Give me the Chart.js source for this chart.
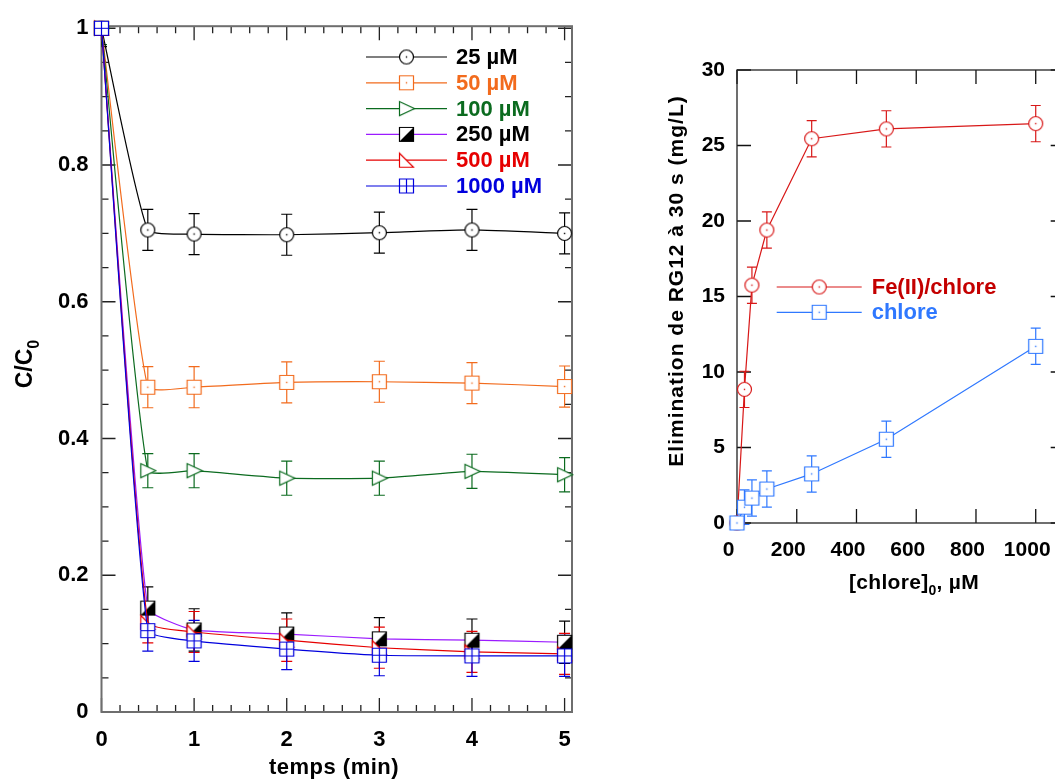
<!DOCTYPE html>
<html>
<head>
<meta charset="utf-8">
<script src="https://cdn.jsdelivr.net/npm/chart.js@4.4.1/dist/chart.umd.min.js"></script>
<style>
  html, body { margin: 0; padding: 0; background: #fff; }
  #wrap { position: relative; width: 1055px; height: 780px; overflow: hidden; }
  .box { position: absolute; top: 0; }
</style>
</head>
<body>
<div id="wrap">
  <div class="box" style="left:0;width:600px;height:780px"><canvas id="left" width="600" height="780"></canvas></div>
  <div class="box" style="left:640px;width:440px;height:780px"><canvas id="right" width="440" height="780"></canvas></div>
</div>
<script>
// ---- left panel: C/C0 vs temps ----
const times = [0, 0.5, 1, 2, 3, 4, 5];
const doseLabels = ['25 µM', '50 µM', '100 µM', '250 µM', '500 µM', '1000 µM'];
const c25   = [1, 0.705, 0.699, 0.698, 0.701, 0.705, 0.700];
const c50   = [1, 0.475, 0.475, 0.482, 0.483, 0.481, 0.476];
const c100  = [1, 0.353, 0.353, 0.342, 0.342, 0.352, 0.347];
const c250  = [1, 0.152, 0.120, 0.114, 0.107, 0.105, 0.102];
const c500  = [1, 0.131, 0.117, 0.105, 0.094, 0.088, 0.085];
const c1000 = [1, 0.119, 0.104, 0.092, 0.083, 0.082, 0.082];
const e25   = [0, 0.030, 0.030, 0.030, 0.030, 0.030, 0.030];
const e50   = [0, 0.030, 0.030, 0.030, 0.030, 0.030, 0.030];
const e100  = [0.024, 0.025, 0.025, 0.025, 0.025, 0.025, 0.025];
const e250  = [0.027, 0.031, 0.031, 0.031, 0.031, 0.031, 0.031];
const e500  = [0, 0.030, 0.030, 0.031, 0.030, 0.030, 0.030];
const e1000 = [0, 0.030, 0.030, 0.030, 0.030, 0.030, 0.030];

// ---- right panel: elimination vs [chlore]0 ----
const chloreDose = [0, 25, 50, 100, 250, 500, 1000];
const feChlore = [0, 8.85, 15.75, 19.4, 25.45, 26.1, 26.45];
const feChloreErr = [0, 1.2, 1.2, 1.2, 1.2, 1.2, 1.2];
const chloreSeul = [0, 1.05, 1.65, 2.25, 3.25, 5.55, 11.7];
const chloreSeulErr = [0, 1.15, 1.2, 1.2, 1.2, 1.2, 1.2];
const rightLabels = ['Fe(II)/chlore', 'chlore'];

const FONT = "'Liberation Sans', Arial, sans-serif";

function pts(xs, ys) { return xs.map((x, i) => ({ x: x, y: ys[i] })); }

// marker images used as pointStyle
function marker(kind, color, dot) {
  const s = 19, c = s / 2, h = 7;
  const cv = document.createElement('canvas');
  cv.width = s; cv.height = s;
  const g = cv.getContext('2d');
  g.lineWidth = 1.2;
  g.strokeStyle = color;
  g.fillStyle = '#fff';
  g.beginPath();
  if (kind === 'circle') g.arc(c, c, h, 0, Math.PI * 2);
  else if (kind === 'triRight') { g.moveTo(c - h, c - h); g.lineTo(c + h + 1, c); g.lineTo(c - h, c + h); g.closePath(); }
  else if (kind === 'triLow') { g.moveTo(c - h, c - h); g.lineTo(c + h, c + h); g.lineTo(c - h, c + h); g.closePath(); }
  else g.rect(c - h, c - h, 2 * h, 2 * h);
  g.fill();
  g.stroke();
  if (kind === 'half') {
    g.fillStyle = color;
    g.beginPath(); g.moveTo(c - h, c + h); g.lineTo(c + h, c - h); g.lineTo(c + h, c + h); g.closePath(); g.fill();
  }
  if (kind === 'cross') {
    g.beginPath();
    g.moveTo(c, c - h); g.lineTo(c, c + h);
    g.moveTo(c - h, c); g.lineTo(c + h, c);
    g.stroke();
  }
  if (dot) { g.fillStyle = color; g.fillRect(c - 0.7, c - 0.7, 1.4, 1.4); }
  return cv;
}

// inward ticks + frame on all four sides
function frameTicks(cfg) {
  return {
    id: 'frameTicks',
    beforeDatasetsDraw(chart) {
      const { ctx, chartArea: a, scales: { x, y } } = chart;
      ctx.save();
      ctx.strokeStyle = cfg.tickColor;
      ctx.lineWidth = cfg.tickWidth;
      ctx.beginPath();
      const nx = Math.round((cfg.xTo - cfg.xFrom) / cfg.xMinor);
      for (let i = 0; i <= nx; i++) {
        const v = cfg.xFrom + i * cfg.xMinor;
        const major = Math.abs(v / cfg.xMajor - Math.round(v / cfg.xMajor)) < 1e-6;
        const len = major ? cfg.majorLen : cfg.minorLen;
        const p = x.getPixelForValue(v);
        ctx.moveTo(p, a.bottom); ctx.lineTo(p, a.bottom - len);
        ctx.moveTo(p, a.top); ctx.lineTo(p, a.top + len);
      }
      const ny = Math.round((cfg.yTo - cfg.yFrom) / cfg.yMinor);
      for (let i = 0; i <= ny; i++) {
        const v = cfg.yFrom + i * cfg.yMinor;
        const major = Math.abs(v / cfg.yMajor - Math.round(v / cfg.yMajor)) < 1e-6;
        const len = major ? cfg.majorLen : cfg.minorLen;
        const p = y.getPixelForValue(v);
        ctx.moveTo(a.left, p); ctx.lineTo(a.left + len, p);
        ctx.moveTo(a.right, p); ctx.lineTo(a.right - len, p);
      }
      ctx.stroke();
      ctx.strokeStyle = cfg.frameColor;
      ctx.lineWidth = cfg.frameWidth;
      ctx.strokeRect(a.left, a.top, a.right - a.left, a.bottom - a.top);
      ctx.restore();
    }
  };
}

const errorBars = {
  id: 'errorBars',
  beforeDatasetsDraw(chart, args, opts) {
    const { ctx, chartArea: a } = chart;
    const ys = chart.scales.y;
    ctx.save();
    if (opts.clip) {
      ctx.beginPath();
      ctx.rect(a.left, a.top, a.right - a.left, a.bottom - a.top);
      ctx.clip();
    }
    chart.data.datasets.forEach((ds, i) => {
      if (!ds.errors) return;
      const meta = chart.getDatasetMeta(i);
      ctx.strokeStyle = ds.errorColor || ds.borderColor;
      ctx.lineWidth = 1.2;
      ds.data.forEach((pt, j) => {
        const e = ds.errors[j];
        if (!e) return;
        const px = meta.data[j].x;
        const t = ys.getPixelForValue(pt.y + e), b = ys.getPixelForValue(pt.y - e);
        const cap = opts.cap;
        ctx.beginPath();
        ctx.moveTo(px, t); ctx.lineTo(px, b);
        ctx.moveTo(px - cap, t); ctx.lineTo(px + cap, t);
        ctx.moveTo(px - cap, b); ctx.lineTo(px + cap, b);
        ctx.stroke();
      });
    });
    ctx.restore();
  }
};

// legend drawn as line + marker + text
const lineLegend = {
  id: 'lineLegend',
  afterDatasetsDraw(chart, args, opts) {
    const { ctx } = chart;
    ctx.save();
    ctx.font = 'bold ' + opts.size + 'px ' + FONT;
    ctx.textBaseline = 'middle';
    ctx.textAlign = 'left';
    opts.items.forEach((it, k) => {
      const yy = opts.y + k * opts.gap;
      ctx.strokeStyle = it.lineColor;
      ctx.lineWidth = 1.2;
      ctx.beginPath();
      ctx.moveTo(opts.x0, yy); ctx.lineTo(opts.x1, yy);
      ctx.stroke();
      const m = it.marker;
      ctx.drawImage(m, (opts.x0 + opts.x1) / 2 - m.width / 2, yy - m.height / 2);
      ctx.fillStyle = it.textColor;
      ctx.fillText(it.label, opts.tx, yy + 1);
    });
    ctx.restore();
  }
};

// axis titles with a subscript part
function drawParts(ctx, t) {
  const size = t.size;
  const big = 'bold ' + size + 'px ' + FONT;
  const small = 'bold ' + Math.round(size * 0.68) + 'px ' + FONT;
  ctx.save();
  ctx.letterSpacing = (t.spacing || 0) + 'px';
  let w = 0;
  t.parts.forEach(p => { ctx.font = p.sub ? small : big; w += ctx.measureText(p.t).width; });
  ctx.translate(t.x, t.y);
  if (t.rot) ctx.rotate(-Math.PI / 2);
  ctx.fillStyle = '#000';
  ctx.textBaseline = 'middle';
  ctx.textAlign = 'left';
  let xx = -w / 2;
  t.parts.forEach(p => {
    ctx.font = p.sub ? small : big;
    ctx.fillText(p.t, xx, p.sub ? size * 0.38 : 0);
    xx += ctx.measureText(p.t).width;
  });
  ctx.restore();
}

const axisTitles = {
  id: 'axisTitles',
  afterDraw(chart, args, opts) {
    opts.titles.forEach(t => drawParts(chart.ctx, t));
  }
};

const leftColors = ['#000000', '#f26b1d', '#0b6b1f', '#000000', '#e60000', '#0000dd'];
const leftLineColors = ['#000000', '#f26b1d', '#0b6b1f', '#9b1bff', '#e60000', '#0000dd'];
const leftMarkers = [
  marker('circle', '#000000', true),
  marker('square', '#f26b1d', true),
  marker('triRight', '#0b6b1f', false),
  marker('half', '#000000', false),
  marker('triLow', '#e60000', false),
  marker('cross', '#0000dd', false)
];
const leftSeries = [c25, c50, c100, c250, c500, c1000];
const leftErr = [e25, e50, e100, e250, e500, e1000];

const leftDatasets = leftSeries.map((s, i) => ({
  label: doseLabels[i],
  data: pts(times, s),
  errors: leftErr[i],
  errorColor: leftColors[i],
  borderColor: leftLineColors[i],
  borderWidth: 1.2,
  tension: 0.15,
  pointStyle: leftMarkers[i],
  pointRadius: 7,
  showLine: true,
  clip: false,
  order: 6 - i
}));

const tickFont = { family: FONT, size: 22, weight: 'bold' };
const rTickFont = { family: FONT, size: 21, weight: 'bold' };

new Chart(document.getElementById('left'), {
  type: 'scatter',
  data: { datasets: leftDatasets },
  options: {
    responsive: false,
    animation: false,
    events: [],
    layout: { padding: { left: 0, top: 25, right: 28, bottom: 0 } },
    plugins: {
      legend: { display: false },
      tooltip: { enabled: false },
      errorBars: { clip: true, cap: 5.5 },
      lineLegend: {
        size: 22, x0: 366, x1: 447, tx: 456, y: 57, gap: 25.8,
        items: doseLabels.map((l, i) => ({ label: l, textColor: leftColors[i], lineColor: leftLineColors[i], marker: leftMarkers[i] }))
      },
      axisTitles: {
        titles: [
          { parts: [{ t: 'temps (min)' }], size: 22, spacing: 0.5, x: 334, y: 768 },
          { parts: [{ t: 'C/C' }, { t: '0', sub: true }], size: 23, x: 26, y: 364, rot: true }
        ]
      }
    },
    scales: {
      x: {
        type: 'linear', min: 0, max: 5.08,
        grid: { display: false, drawTicks: false }, border: { display: false },
        ticks: { stepSize: 1, includeBounds: false, font: tickFont, color: '#000', padding: 15, maxRotation: 0 },
        afterFit: s => { s.height = 68; }
      },
      y: {
        type: 'linear', min: 0, max: 1.003,
        grid: { display: false, drawTicks: false }, border: { display: false },
        ticks: { stepSize: 0.2, includeBounds: false, font: tickFont, color: '#000', padding: 13,
          callback: v => String(Number(v.toFixed(2))) },
        afterFit: s => { s.width = 101.5; }
      }
    }
  },
  plugins: [frameTicks({ tickColor: '#222', tickWidth: 1.3, frameColor: '#6e6e6e', frameWidth: 2,
    majorLen: 14, minorLen: 7, xFrom: 0, xTo: 5, xMinor: 0.2, xMajor: 1, yFrom: 0, yTo: 1, yMinor: 0.05, yMajor: 0.2 }),
    errorBars, lineLegend, axisTitles]
});

const redC = '#d81818', redT = '#c40000', blueC = '#2f78ff', blueT = '#2f78ff';
const rightMarkers = [marker('circle', redC, true), marker('square', blueC, true)];

// right frame sits just past the picture edge (x max ~1100)
new Chart(document.getElementById('right'), {
  type: 'scatter',
  data: {
    datasets: [
      { label: rightLabels[0], data: pts(chloreDose, feChlore), errors: feChloreErr, borderColor: redC, borderWidth: 1.2,
        pointStyle: rightMarkers[0], pointRadius: 7, showLine: true, tension: 0, clip: false, order: 2 },
      { label: rightLabels[1], data: pts(chloreDose, chloreSeul), errors: chloreSeulErr, borderColor: blueC, borderWidth: 1.2,
        pointStyle: rightMarkers[1], pointRadius: 7, showLine: true, tension: 0, clip: false, order: 1 }
    ]
  },
  options: {
    responsive: false,
    animation: false,
    events: [],
    layout: { padding: { left: 0, top: 70, right: 15.3, bottom: 0 } },
    plugins: {
      legend: { display: false },
      tooltip: { enabled: false },
      errorBars: { clip: false, cap: 5 },
      lineLegend: {
        size: 22, x0: 136.7, x1: 221.7, tx: 231.7, y: 287, gap: 25.3,
        items: rightLabels.map((l, i) => ({ label: l, textColor: i ? blueT : redT, lineColor: i ? blueC : redC, marker: rightMarkers[i] }))
      },
      axisTitles: {
        titles: [
          { parts: [{ t: '[chlore]' }, { t: '0', sub: true }, { t: ', µM' }], size: 21, spacing: 0.3, x: 274, y: 583 },
          { parts: [{ t: 'Elimination de RG12 à 30 s (mg/L)' }], size: 21, spacing: 1, x: 37, y: 281, rot: true }
        ]
      }
    },
    scales: {
      x: {
        type: 'linear', min: 0, max: 1097,
        grid: { display: false, drawTicks: false }, border: { display: false },
        ticks: { stepSize: 200, includeBounds: false, font: rTickFont, color: '#000', padding: 15, maxRotation: 0,
          labelOffset: -8.5, callback: v => String(v) },
        afterFit: s => { s.height = 257; }
      },
      y: {
        type: 'linear', min: 0, max: 30,
        grid: { display: false, drawTicks: false }, border: { display: false },
        ticks: { stepSize: 5, includeBounds: false, font: rTickFont, color: '#000', padding: 12 },
        afterFit: s => { s.width = 97; }
      }
    }
  },
  plugins: [frameTicks({ tickColor: '#111', tickWidth: 1.3, frameColor: '#222', frameWidth: 1.3,
    majorLen: 14, minorLen: 14, xFrom: 0, xTo: 1000, xMinor: 200, xMajor: 200, yFrom: 0, yTo: 30, yMinor: 5, yMajor: 5 }),
    errorBars, lineLegend, axisTitles]
});
</script>
</body>
</html>
